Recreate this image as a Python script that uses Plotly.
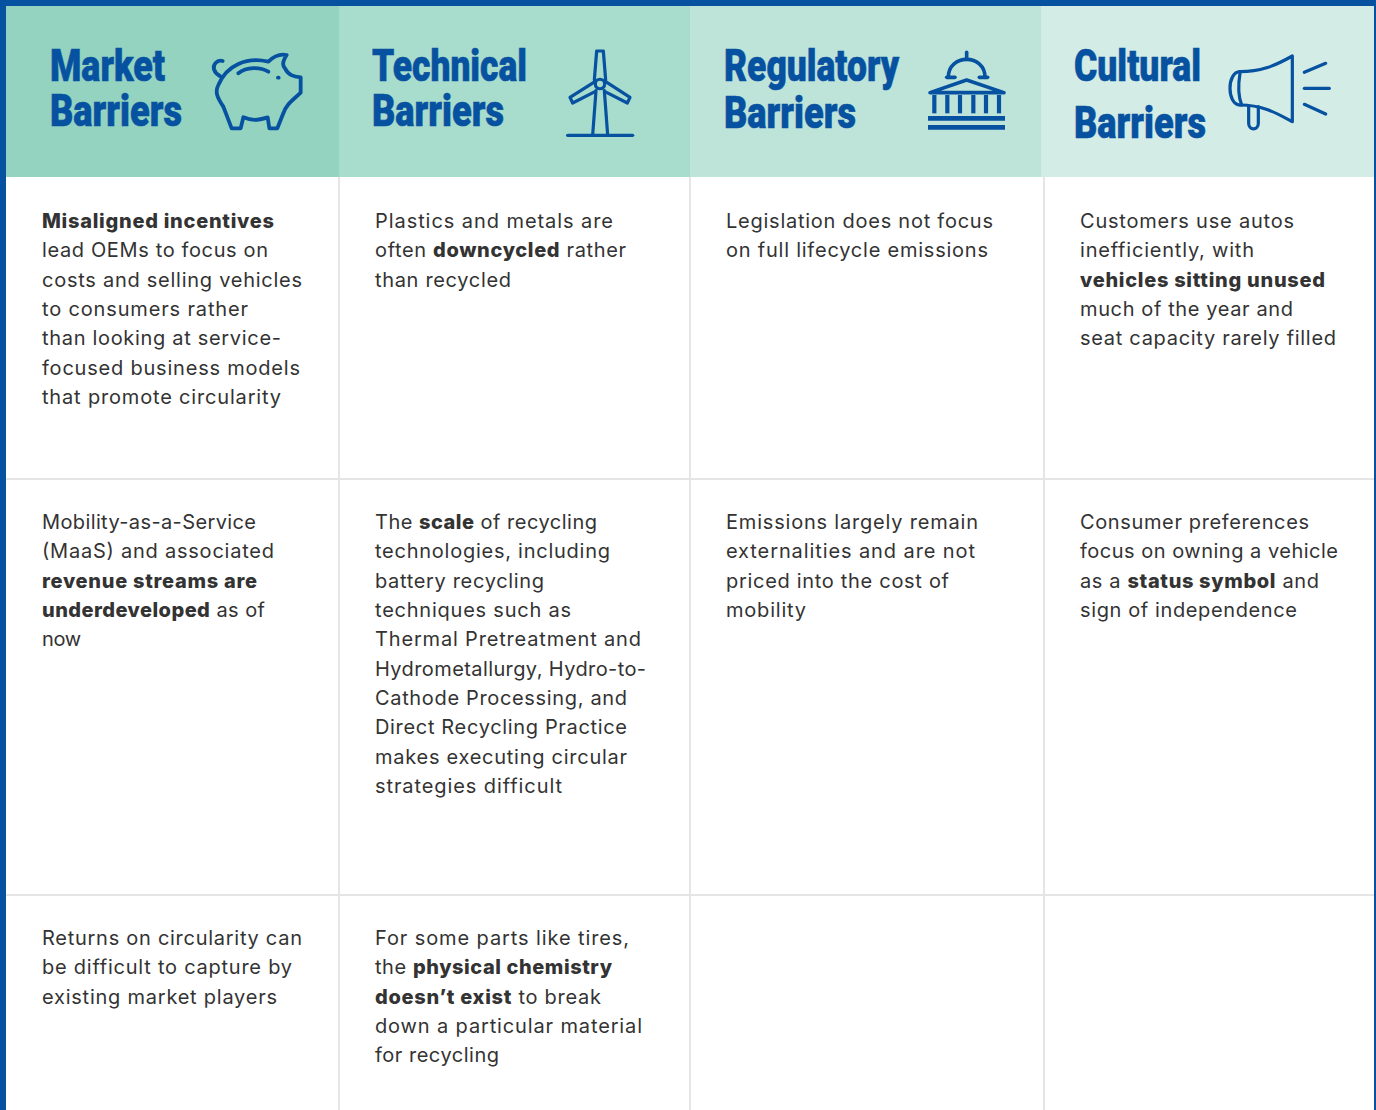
import json
import plotly.graph_objects as go

W, H = 1376, 1110
BLUE = "#0651A0"
GRID = "#E5E5E5"
TEXT = "#333333"

# ---- content ----
header_lines = [["Market", "Barriers"], ["Technical", "Barriers"], ["Regulatory", "Barriers"], ["Cultural", "Barriers"]]
header_widths = [[115, 132], [155, 132], [175, 132], [127, 132]]
header_colors = ["#93D3C0", "#A8DCCC", "#BEE4DA", "#D4ECE6"]
header_edges = [6, 339, 690, 1041, 1374]
header_text_x = [50, 372, 724, 1074]
header_text_y = [[70, 115], [70, 115], [70, 117], [70, 127]]

col_text_x = [42, 375, 726, 1080]
grid_x = [339, 690, 1044]
grid_y = [479, 895]
row_first_y = [223, 524, 940]
LINE_STEP = 29.35

cells = [
    [
        ["<b>Misaligned incentives</b>", "lead OEMs to focus on", "costs and selling vehicles", "to consumers rather",
         "than looking at service-", "focused business models", "that promote circularity"],
        ["Plastics and metals are", "often <b>downcycled</b> rather", "than recycled"],
        ["Legislation does not focus", "on full lifecycle emissions"],
        ["Customers use autos", "inefficiently, with", "<b>vehicles sitting unused</b>", "much of the year and",
         "seat capacity rarely filled"],
    ],
    [
        ["Mobility-as-a-Service", "(MaaS) and associated", "<b>revenue streams are</b>", "<b>underdeveloped</b> as of", "now"],
        ["The <b>scale</b> of recycling", "technologies, including", "battery recycling", "techniques such as",
         "Thermal Pretreatment and", "Hydrometallurgy, Hydro-to-", "Cathode Processing, and", "Direct Recycling Practice",
         "makes executing circular", "strategies difficult"],
        ["Emissions largely remain", "externalities and are not", "priced into the cost of", "mobility"],
        ["Consumer preferences", "focus on owning a vehicle", "as a <b>status symbol</b> and", "sign of independence"],
    ],
    [
        ["Returns on circularity can", "be difficult to capture by", "existing market players"],
        ["For some parts like tires,", "the <b>physical chemistry</b>", "<b>doesn’t exist</b> to break", "down a particular material",
         "for recycling"],
        [],
        [],
    ],
]
# where each line of text ends
line_ends = [
    [[274, 268, 302, 248, 281, 300, 281], [613, 626, 511], [993, 988], [1294, 1254, 1325, 1293, 1336]],
    [[256, 274, 257, 265, 81], [597, 610, 544, 571, 641, 646, 627, 627, 627, 562], [978, 975, 949, 806],
     [1309, 1338, 1319, 1297]],
    [[302, 292, 277], [629, 612, 601, 642, 499], [], []],
]

# icon outlines, drawn in 3x-zoom units
pig_paths = [
    "M668 183 C650 178 638 195 642 208 C645 220 655 225 660 228",
    "M655 255 C680 195 740 170 805 185 C815 175 835 160 860 165 C850 180 845 195 855 205 C865 225 880 230 902 232 "
    "L902 278 C880 300 860 310 850 340 L832 385 L808 385 L803 352 C770 362 755 362 730 352 L722 385 L695 385 L670 320 "
    "C650 290 645 275 655 255 Z",
    "M715 220 C740 200 780 200 805 215",
    "M834 233 L836 233",
]
turbine_paths = [
    "M758 405 L768 272", "M803 405 L793 272", "M683 406 L878 406",
    "M763 240 L770 153 L790 153 L797 240",
    "M765 245 L690 292 L698 309 L765 275",
    "M797 245 L870 292 L862 309 L795 275",
    "M766 252 C766 233 794 233 794 252 C794 271 766 271 766 252 Z",
]
capitol_paths = [
    "M775 232 C775 160 885 160 885 232", "M770 232 L795 232", "M868 232 L893 232", "M830 157 L830 172",
    "M720 278 L830 240 L942 278 Z",
    "M733 285 L733 340", "M772 285 L772 340", "M810 285 L810 340", "M850 285 L850 340", "M888 285 L888 340", "M927 285 L927 340",
    "M714 355 L945 355", "M714 382 L945 382",
]
horn_paths = [
    "M630 215 C690 215 730 200 787 168 L787 365 C740 340 700 315 630 315",
    "M630 215 C590 215 590 315 630 315",
    "M630 220 C625 250 625 290 635 315",
    "M656 320 L656 370 C656 392 685 392 685 370 L685 320",
    "M823 217 L887 190", "M823 265 L898 265", "M823 313 L887 342",
]
icons = [(pig_paths, 0, 3.8), (turbine_paths, 340, 3.2), (capitol_paths, 690, 3.6), (horn_paths, 1030, 3.2)]


def to_px(path, dx):
    out, is_x = [], True
    for tok in path.split():
        cmd = ""
        if tok[0].isalpha():
            cmd, tok = tok[0], tok[1:]
        if not tok:
            out.append(cmd)
            continue
        val = float(tok) / 3 + dx if is_x else float(tok) / 3
        out.append(f"{cmd}{val:.2f}")
        is_x = not is_x
    return " ".join(out)


shapes = []


def rect(x0, y0, x1, y1, color):
    shapes.append(dict(type="rect", x0=x0, y0=y0, x1=x1, y1=y1, fillcolor=color, line_width=0, layer="below"))


for i, c in enumerate(header_colors):
    rect(header_edges[i], 6, header_edges[i + 1], 177, c)
for x in grid_x:
    rect(x - 1, 177, x + 1, H, GRID)
for y in grid_y:
    rect(6, y - 1, 1374, y + 1, GRID)
rect(0, 0, W, 6, BLUE)
rect(0, 0, 6, H, BLUE)
rect(1374, 0, W, H, BLUE)

for paths, dx, width in icons:
    for p in paths:
        wide = width
        if p[:4] in ("M733", "M772", "M810", "M850", "M888", "M927"):
            wide = 4.2
        if p in ("M714 355 L945 355", "M714 382 L945 382"):
            wide = 4.8
        shapes.append(dict(type="path", path=to_px(p, dx), line=dict(color=BLUE, width=wide), layer="above"))

head_x, head_y, head_t, head_w = [], [], [], []
for i, lines in enumerate(header_lines):
    for j, t in enumerate(lines):
        head_x.append(header_text_x[i])
        head_y.append(header_text_y[i][j])
        head_t.append(t)
        head_w.append(header_widths[i][j])

body_x, body_y, body_t, body_w = [], [], [], []
for r, row in enumerate(cells):
    for c, lines in enumerate(row):
        for k, t in enumerate(lines):
            body_x.append(col_text_x[c])
            body_y.append(row_first_y[r] + k * LINE_STEP)
            body_t.append(t)
            body_w.append(line_ends[r][c][k] - col_text_x[c])

fig = go.Figure()
fig.add_trace(go.Scatter(x=head_x, y=head_y, text=head_t, mode="text", textposition="middle right", cliponaxis=False,
                         hoverinfo="skip",
                         textfont=dict(family="Roboto", size=44, color=BLUE, weight=900)))
fig.add_trace(go.Scatter(x=body_x, y=body_y, text=body_t, mode="text", textposition="middle right", cliponaxis=False,
                         hoverinfo="skip",
                         textfont=dict(family="Inter", size=20, color=TEXT)))
fig.update_layout(
    width=W, height=H, margin=dict(l=0, r=0, t=0, b=0), paper_bgcolor="white", plot_bgcolor="white",
    xaxis=dict(range=[0, W], visible=False, fixedrange=True),
    yaxis=dict(range=[H, 0], visible=False, fixedrange=True),
    shapes=shapes, showlegend=False,
)

post = """
document.body.style.margin = '0';
var headW = %s, bodyW = %s;
var traces = document.querySelectorAll('.scatterlayer .trace');
traces[0].querySelectorAll('.textpoint text').forEach(function (t, i) {
  t.setAttribute('textLength', headW[i]);
  t.setAttribute('lengthAdjust', 'spacingAndGlyphs');
  t.style.stroke = '%s';
  t.style.strokeWidth = '0.6px';
});
traces[1].querySelectorAll('.textpoint text').forEach(function (t, i) {
  t.querySelectorAll('tspan').forEach(function (s) {
    if ((s.getAttribute('style') || '').indexOf('bold') >= 0) { s.style.fontWeight = '800'; }
  });
  t.setAttribute('textLength', bodyW[i]);
  t.setAttribute('lengthAdjust', 'spacing');
});
document.querySelectorAll('.shapelayer path').forEach(function (p) {
  if (parseFloat(p.style.strokeWidth) < 4) {
    p.style.strokeLinejoin = 'round';
    p.style.strokeLinecap = 'round';
  }
});
""" % (json.dumps(head_w), json.dumps(body_w), BLUE)
fig.write_html("out.html", config=dict(displayModeBar=False), post_script=post)
